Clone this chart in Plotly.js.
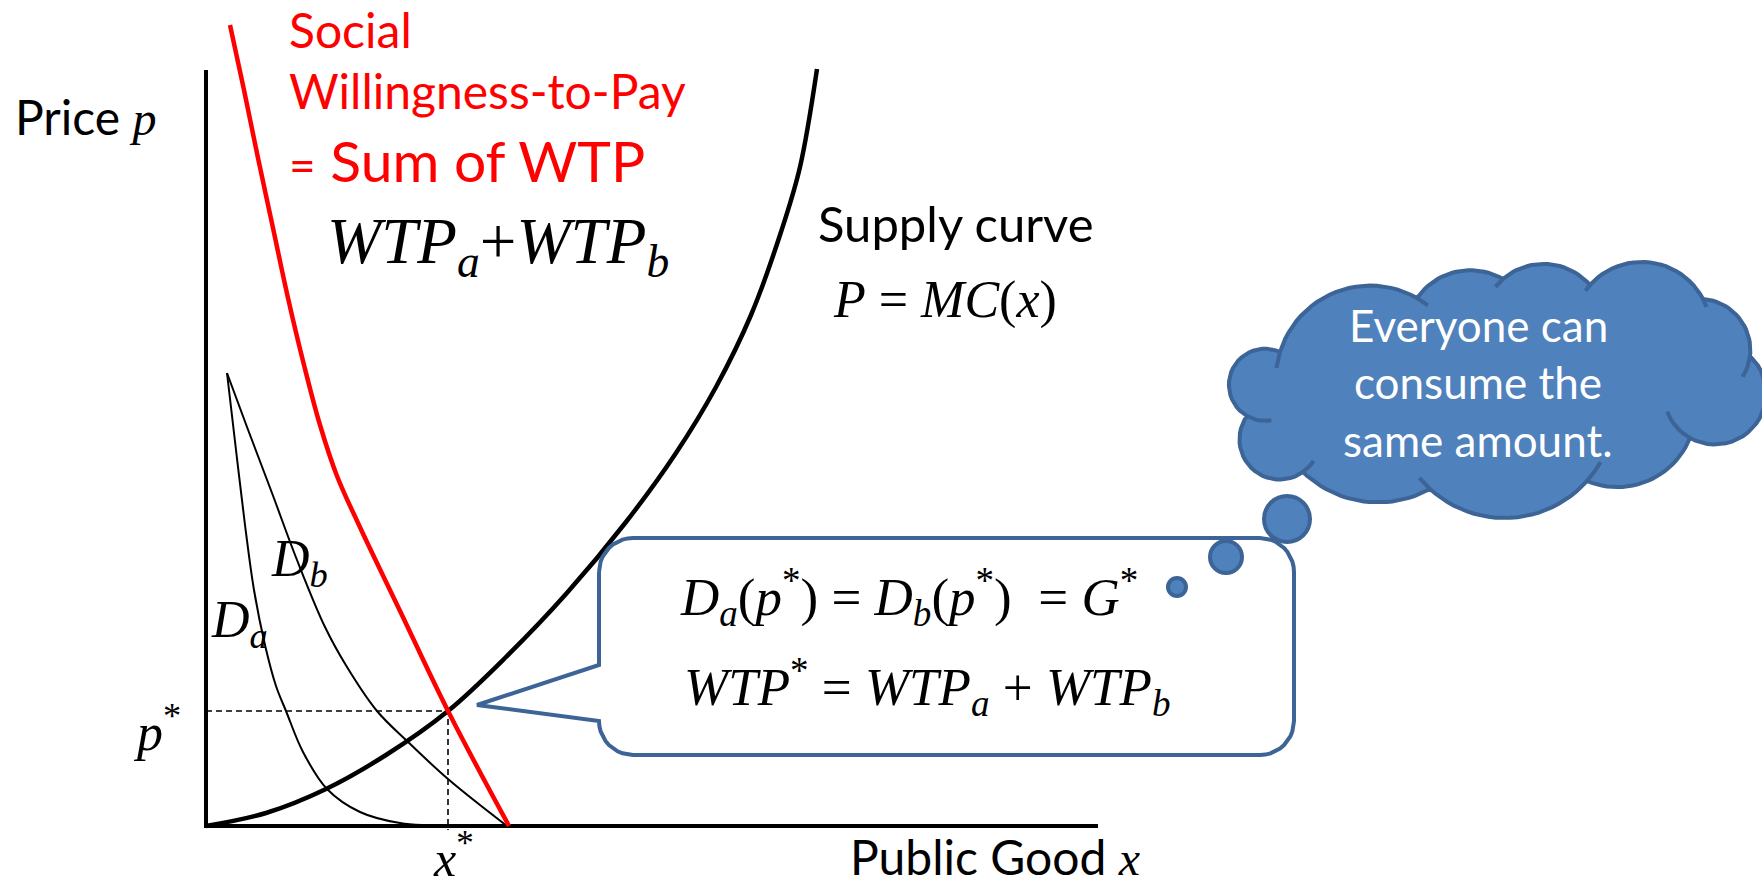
<!DOCTYPE html>
<html><head><meta charset="utf-8">
<script src="https://cdn.plot.ly/plotly-3.0.1.min.js"></script>
<style>html,body{margin:0;padding:0;background:#fff;overflow:hidden}</style>
</head><body><div id="chart" style="width:1762px;height:888px"></div>
<script>
// ---- data (x = quantity of public good, p = price) ----
const supplyX = [0, 0.6, 1.2, 1.8, 2.42, 3.0, 3.6, 4.2, 4.7, 5.1, 5.45, 5.75, 5.94, 6.11];
const supplyP = [0, 0.13, 0.37, 0.71, 1.15, 1.69, 2.32, 3.04, 3.73, 4.39, 5.11, 5.94, 6.59, 7.57];
const wtpSumX = [0.24, 0.38, 0.52, 0.67, 0.82, 0.98, 1.14, 1.31, 1.52, 1.95, 2.42, 3.03];
const wtpSumP = [8.01, 7.36, 6.68, 5.98, 5.28, 4.61, 4.01, 3.50, 3.03, 2.13, 1.15, 0];
const demandAX = [0.21, 0.30, 0.39, 0.48, 0.59, 0.70, 0.80, 0.97, 1.21, 1.54, 1.94, 2.49];
const demandAP = [4.53, 3.76, 3.01, 2.36, 1.81, 1.40, 1.15, 0.74, 0.37, 0.14, 0.03, 0];
const demandBX = [0.21, 0.41, 0.66, 0.91, 1.19, 1.41, 1.71, 2.01, 2.42, 3.01];
const demandBP = [4.53, 3.99, 3.33, 2.66, 1.99, 1.59, 1.15, 0.85, 0.47, 0];
const eqQuantity = 2.42;
const eqPrice = 1.15;
const axisMaxX = 8.92;
const axisMaxP = 7.56;

// ---- page geometry ----
const W = 1762, H = 888;
const xr = [-2.06, 15.56], yr = [-0.62, 8.26];
const X = px => xr[0] + px * (xr[1] - xr[0]) / W;
const Y = py => yr[1] - py * (yr[1] - yr[0]) / H;

const SERIF = 'Liberation Serif';
const SANS = 'Lato';
const BLUE_FILL = '#4F81BD';
const BLUE_LINE = '#3C6496';

function circ3(p1, p2, p3) {
  const [ax, ay] = p1, [bx, by] = p2, [cx, cy] = p3;
  const d = 2 * (ax * (by - cy) + bx * (cy - ay) + cx * (ay - by));
  const ux = ((ax*ax + ay*ay) * (by - cy) + (bx*bx + by*by) * (cy - ay) + (cx*cx + cy*cy) * (ay - by)) / d;
  const uy = ((ax*ax + ay*ay) * (cx - bx) + (bx*bx + by*by) * (ax - cx) + (cx*cx + cy*cy) * (bx - ax)) / d;
  const r = Math.hypot(ax - ux, ay - uy);
  const TAU = Math.PI * 2, md = a => ((a % TAU) + TAU) % TAU;
  const a1 = Math.atan2(ay - uy, ax - ux), a2 = Math.atan2(by - uy, bx - ux), a3 = Math.atan2(cy - uy, cx - ux);
  const d13 = md(a3 - a1), d12 = md(a2 - a1);
  const delta = d12 < d13 ? d13 : d13 - TAU;
  return {ux, uy, r, a1, delta};
}
function sampleArc(c, aStart, aEnd, n) {
  const pts = [];
  for (let i = 0; i <= n; i++) { const a = aStart + (aEnd - aStart) * i / n; pts.push([c.ux + c.r * Math.cos(a), c.uy + c.r * Math.sin(a)]); }
  return pts;
}

// callout box (px geometry)
const box = {L: 599, R: 1294, T: 538, B: 755, r: 34, tailTop: 665, tailBot: 721, tip: [477, 705]};
function cornerPts(cx, cy, r, a0, a1) {
  const pts = [];
  for (let i = 0; i <= 10; i++) { const a = (a0 + (a1 - a0) * i / 10) * Math.PI / 180; pts.push([cx + r * Math.cos(a), cy + r * Math.sin(a)]); }
  return pts;
}
let boxPts = [];
boxPts = boxPts.concat(cornerPts(box.L + box.r, box.T + box.r, box.r, 180, 270));
boxPts = boxPts.concat(cornerPts(box.R - box.r, box.T + box.r, box.r, 270, 360));
boxPts = boxPts.concat(cornerPts(box.R - box.r, box.B - box.r, box.r, 0, 90));
boxPts = boxPts.concat(cornerPts(box.L + box.r, box.B - box.r, box.r, 90, 180));
boxPts.push([box.L, box.tailBot], box.tip, [box.L, box.tailTop], [box.L, box.T + box.r]);

// cloud (px geometry): cusps and one point on each bump
const cloudCusps = [[1280,352],[1417,298],[1503,279],[1590,285],[1703,299],[1750,356],[1690,438],[1587,481],[1430,489],[1303,472],[1247,416]];
const cloudBumps = [[1345,289],[1460,271],[1547,264],[1645,262],[1742,322],[1766,397],[1645,482],[1505,518],[1368,502],[1240,446],[1229,382]];
const arcs = cloudCusps.map((a, i) => circ3(a, cloudBumps[i], cloudCusps[(i + 1) % cloudCusps.length]));
let cloudPts = [];
arcs.forEach(c => { cloudPts = cloudPts.concat(sampleArc(c, c.a1, c.a1 + c.delta, 24)); });
// inner strokes: continuation of a bump arc past one of its ends
const innerSpec = [[0,'start',10],[0,'end',8],[2,'start',10],[3,'start',6],[3,'end',7],[4,'end',25],[5,'end',40],[7,'start',12],[7,'end',8],[9,'start',22],[10,'start',40]];
const innerX = [], innerY = [];
innerSpec.forEach(([i, side, deg]) => {
  const c = arcs[i], s = Math.sign(c.delta), e = deg * Math.PI / 180;
  const pts = side === 'end' ? sampleArc(c, c.a1 + c.delta, c.a1 + c.delta + s * e, 8) : sampleArc(c, c.a1, c.a1 - s * e, 8);
  pts.forEach(p => { innerX.push(X(p[0])); innerY.push(Y(p[1])); });
  innerX.push(null); innerY.push(null);
});

const traces = [
  {x: [0, 0, axisMaxX], y: [axisMaxP, 0, 0], mode: 'lines', line: {color: '#000', width: 4}},
  {x: [0, eqQuantity, eqQuantity], y: [eqPrice, eqPrice, -0.04], mode: 'lines', line: {color: '#000', width: 1.6, dash: '6px,4px'}},
  {x: demandAX, y: demandAP, mode: 'lines', line: {color: '#000', width: 2, shape: 'spline'}},
  {x: demandBX, y: demandBP, mode: 'lines', line: {color: '#000', width: 2, shape: 'spline'}},
  {x: supplyX, y: supplyP, mode: 'lines', line: {color: '#000', width: 4.5, shape: 'spline'}},
  {x: wtpSumX, y: wtpSumP, mode: 'lines', line: {color: '#FF0000', width: 4.5, shape: 'spline'}},
  {x: boxPts.map(p => X(p[0])), y: boxPts.map(p => Y(p[1])), mode: 'lines', fill: 'toself', fillcolor: '#FFFFFF', line: {color: BLUE_LINE, width: 4}},
  {x: cloudPts.map(p => X(p[0])), y: cloudPts.map(p => Y(p[1])), mode: 'lines', fill: 'toself', fillcolor: BLUE_FILL, line: {color: BLUE_LINE, width: 4}},
  {x: innerX, y: innerY, mode: 'lines', line: {color: BLUE_LINE, width: 4}}
];

const bubbles = [[1177, 587, 9], [1226, 557, 16], [1287, 519, 23]];
const shapes = bubbles.map(b => ({type: 'circle', xref: 'x', yref: 'y', x0: X(b[0] - b[2]), x1: X(b[0] + b[2]), y0: Y(b[1] + b[2]), y1: Y(b[1] - b[2]), fillcolor: BLUE_FILL, line: {color: BLUE_LINE, width: 4}, layer: 'above'}));

function lab(text, px, base, size, family, k, opts) {
  opts = opts || {};
  return {x: X(px), y: Y(base - k * size), xref: 'x', yref: 'y', text: text, showarrow: false,
    xanchor: opts.xanchor || 'left', yanchor: 'middle', borderpad: 0,
    font: {family: family, size: size, color: opts.color || '#000'}};
}
const it = s => `<span style="font-family:'${SERIF}';font-style:italic">${s}</span>`;
const K_SANS = 0.387, K_SERIF = 0.3375, K_SUB = 0.266, K_SUP = 0.414, K_BOTH = 0.342;

const annotations = [
  lab('Price ' + it('p'), 14, 135, 48, SANS, K_SANS),
  lab('Social', 288, 48, 48, SANS, K_SANS, {color: '#FF0000'}),
  lab('Willingness-to-Pay', 288, 109, 48, SANS, K_SANS, {color: '#FF0000'}),
  lab('<span style="font-size:46px">=</span> Sum of WTP', 288, 182, 57, SANS, K_SANS, {color: '#FF0000'}),
  lab('<i>WTP<sub>a</sub></i>+<i>WTP<sub>b</sub></i>', 326, 263, 65, SERIF, K_SUB),
  lab('Supply curve', 817, 242, 49, SANS, K_SANS),
  lab('<i>P</i> = <i>MC</i>(<i>x</i>)', 832, 318, 52, SERIF, K_SERIF),
  lab('<i>D<sub>a</sub></i>', 210, 637, 52, SERIF, K_SUB),
  lab('<i>D<sub>b</sub></i>', 270, 576, 52, SERIF, K_SUB),
  lab('<i>p</i><sup>*</sup>', 182, 750, 52, SERIF, K_SUP, {xanchor: 'right'}),
  lab('<i>x</i><sup>*</sup>', 432, 876, 50, SERIF, K_SUP),
  lab('Public Good ' + it('x'), 849, 875, 48, SANS, K_SANS),
  lab('<i>D<sub>a</sub></i>(<i>p</i><sup>*</sup>) = <i>D<sub>b</sub></i>(<i>p</i><sup>*</sup>)\u00a0 = <i>G</i><sup>*</sup>', 679, 615, 53, SERIF, K_BOTH),
  lab('<i>WTP</i><sup>*</sup> = <i>WTP<sub>a</sub></i> + <i>WTP<sub>b</sub></i>', 683, 705, 53, SERIF, K_BOTH),
  lab('Everyone can', 1478, 342, 44, SANS, K_SANS, {xanchor: 'center', color: '#FFFFFF'}),
  lab('consume the', 1478, 399, 44, SANS, K_SANS, {xanchor: 'center', color: '#FFFFFF'}),
  lab('same amount.', 1478, 457, 44, SANS, K_SANS, {xanchor: 'center', color: '#FFFFFF'})
];

const layout = {
  width: W, height: H, margin: {l: 0, r: 0, t: 0, b: 0, pad: 0},
  paper_bgcolor: '#FFFFFF', plot_bgcolor: '#FFFFFF', showlegend: false, hovermode: false,
  xaxis: {range: xr, visible: false, fixedrange: true},
  yaxis: {range: yr, visible: false, fixedrange: true},
  shapes: shapes, annotations: annotations
};
Plotly.newPlot('chart', traces, layout, {staticPlot: true, displayModeBar: false});
</script></body></html>
